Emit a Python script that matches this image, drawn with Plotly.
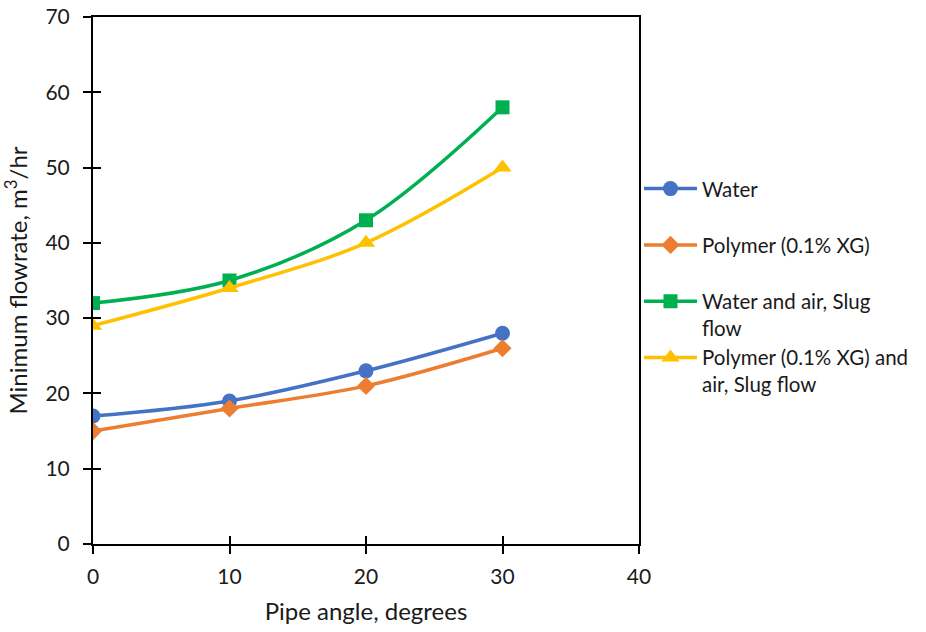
import plotly.graph_objects as go

angles = [0, 10, 20, 30]
water = [17, 19, 23, 28]
polymer = [15, 18, 21, 26]
water_air = [32, 35, 43, 58]
polymer_air = [29, 34, 40, 50]

names = ["Water<br>&nbsp;", "Polymer (0.1% XG)<br>&nbsp;", "Water and air, Slug<br>flow", "Polymer (0.1% XG) and<br>air, Slug flow"]
series = [water, polymer, water_air, polymer_air]
colors = ["#4472C4", "#ED7D31", "#00B050", "#FFC000"]
symbols = ["circle", "diamond", "square", "triangle-up"]
sizes = [15, 14, 14, 16]

FONT = "Lato, Open Sans, sans-serif"
TXT = "#1a1a1a"

fig = go.Figure()
for n, s, c, sym, sz in zip(names, series, colors, symbols, sizes):
    fig.add_trace(go.Scatter(
        x=angles, y=s, name=n, mode="lines+markers",
        line=dict(color=c, width=3.5, shape="spline", smoothing=1.0),
        marker=dict(symbol=sym, size=sz, color=c),
    ))

# invisible trace on overlay axes to draw inward half of crossing ticks
fig.add_trace(go.Scatter(x=[0], y=[0], xaxis="x2", yaxis="y2", mode="markers",
                         marker=dict(opacity=0), showlegend=False, hoverinfo="skip"))

fig.update_layout(
    width=926, height=632,
    margin=dict(l=93, r=284, t=17, b=88),
    plot_bgcolor="white", paper_bgcolor="white",
    font=dict(family=FONT, size=21, color=TXT),
    showlegend=True,
    legend=dict(x=1.0, y=0.712, xanchor="left", yanchor="top", valign="top",
                font=dict(size=20.5, family=FONT, color=TXT),
                tracegroupgap=0, itemwidth=53, bgcolor="rgba(0,0,0,0)"),
    xaxis=dict(range=[0, 40], tickvals=[0, 10, 20, 30, 40], showgrid=False, zeroline=False,
               showline=True, linecolor="black", linewidth=2, mirror=True, automargin=False,
               ticks="outside", ticklen=8, tickwidth=1.5, tickcolor="black", ticklabelstandoff=5,
               title=dict(text="Pipe angle, degrees", font=dict(size=24), standoff=16),
               tickfont=dict(size=21)),
    yaxis=dict(range=[0, 70], tickvals=list(range(0, 80, 10)), showgrid=False, zeroline=False,
               showline=True, linecolor="black", linewidth=2, mirror=True, automargin=False,
               ticks="outside", ticklen=8, tickwidth=1.5, tickcolor="black", ticklabelstandoff=9,
               title=dict(text="Minimum flowrate, m<sup>3</sup>/hr", font=dict(size=24), standoff=12),
               tickfont=dict(size=21)),
    xaxis2=dict(range=[0, 40], tickvals=[0, 10, 20, 30, 40], overlaying="x", side="bottom",
                showgrid=False, zeroline=False, showline=False, ticks="inside", ticklen=8,
                tickwidth=1.5, tickcolor="black", showticklabels=False, automargin=False),
    yaxis2=dict(range=[0, 70], tickvals=list(range(0, 80, 10)), overlaying="y", side="left",
                showgrid=False, zeroline=False, showline=False, ticks="inside", ticklen=8,
                tickwidth=1.5, tickcolor="black", showticklabels=False, automargin=False),
)

fig.write_html("out.html")
